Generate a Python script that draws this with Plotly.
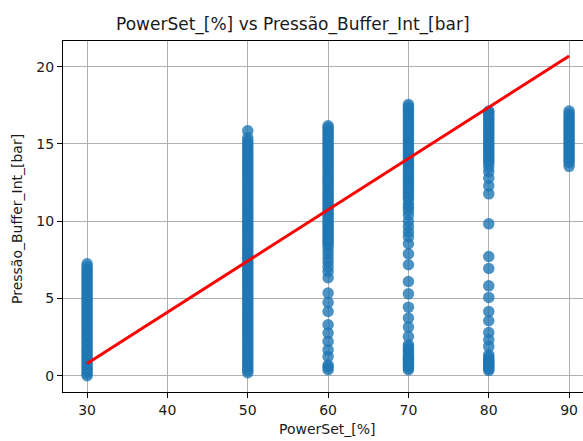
import plotly.graph_objects as go

# Power set-point levels (x) and the internal buffer pressure readings at each level (y, bar)
power_levels = [30, 50, 60, 70, 80, 90]

p30 = [0.00, 0.15, 0.30, 0.45, 0.60, 0.75, 0.90, 1.05, 1.20, 1.35, 1.50, 1.65, 1.80,
       1.95, 2.10, 2.25, 2.40, 2.55, 2.70, 2.85, 3.00, 3.15, 3.30, 3.45, 3.60, 3.75,
       3.90, 4.05, 4.20, 4.35, 4.50, 4.65, 4.80, 4.95, 5.10, 5.25, 5.40, 5.55, 5.70,
       5.85, 6.00, 6.15, 6.30, 6.45, 6.60, 6.75, 6.90, 7.05, 7.25]

p50 = [0.20, 0.35, 0.50, 0.65, 0.80, 0.95, 1.10, 1.25, 1.40, 1.55, 1.70, 1.85, 2.00,
       2.15, 2.30, 2.45, 2.60, 2.75, 2.90, 3.05, 3.20, 3.35, 3.50, 3.65, 3.80, 3.95,
       4.10, 4.25, 4.40, 4.55, 4.70, 4.85, 5.00, 5.15, 5.30, 5.45, 5.60, 5.75, 5.90,
       6.05, 6.20, 6.35, 6.50, 6.65, 6.80, 6.95, 7.10, 7.25, 7.40, 7.55, 7.70, 7.85,
       8.00, 8.15, 8.30, 8.45, 8.60, 8.75, 8.90, 9.05, 9.20, 9.35, 9.50, 9.65, 9.80,
       9.95, 10.10, 10.25, 10.40, 10.55, 10.70, 10.85, 11.00, 11.15, 11.30, 11.45,
       11.60, 11.75, 11.90, 12.05, 12.20, 12.35, 12.50, 12.65, 12.80, 12.95, 13.10,
       13.25, 13.40, 13.55, 13.70, 13.85, 14.00, 14.15, 14.30, 14.45, 14.60, 14.75,
       14.90, 15.05, 15.20, 15.40, 15.85]

p60 = [0.39, 0.55, 0.70, 1.25, 1.68, 2.22, 2.76, 3.30, 4.16, 4.74, 5.35, 6.34,
       6.75, 7.05, 7.35, 7.60, 7.90, 8.15,
       8.40, 8.55, 8.70, 8.85, 9.00, 9.15, 9.30, 9.45, 9.60, 9.75, 9.90, 10.05, 10.20,
       10.35, 10.50, 10.65, 10.80, 10.95, 11.10, 11.25, 11.40, 11.55, 11.70, 11.85,
       12.00, 12.15, 12.30, 12.45, 12.60, 12.75, 12.90, 13.05, 13.20, 13.35, 13.50,
       13.65, 13.80, 13.95, 14.10, 14.25, 14.40, 14.55, 14.70, 14.85, 15.00, 15.15,
       15.30, 15.45, 15.60, 15.75, 15.90, 16.05, 16.17]

p70 = [0.39, 0.50, 0.62, 0.74, 0.84, 0.95, 1.03, 1.15, 1.25, 1.40, 1.55, 1.70, 1.85,
       2.00, 2.54, 3.15, 3.73, 4.44, 5.30, 6.10, 7.18, 7.89, 8.54, 9.00, 9.30, 9.65,
       10.00, 10.40, 10.70, 10.90, 11.10, 11.38, 11.55, 11.70, 11.85,
       12.00, 12.15, 12.30, 12.45, 12.60, 12.75, 12.90, 13.05, 13.20, 13.35, 13.50,
       13.65, 13.80, 13.95, 14.10, 14.25, 14.40, 14.55, 14.70, 14.85, 15.00, 15.15,
       15.30, 15.45, 15.60, 15.75, 15.90, 16.05, 16.20, 16.35, 16.50, 16.65, 16.80,
       16.95, 17.10, 17.25, 17.40, 17.55]

p80 = [0.34, 0.45, 0.55, 0.65, 0.75, 0.85, 0.95, 1.05, 1.20, 1.36, 1.90, 2.33, 2.80,
       3.56, 4.16, 5.07, 5.82, 6.94, 7.72, 9.83, 11.77, 12.29, 12.78, 13.20, 13.50,
       13.75, 13.90, 14.05, 14.20, 14.35, 14.50, 14.65, 14.80, 14.95, 15.10, 15.25,
       15.40, 15.55, 15.70, 15.85, 16.00, 16.15, 16.30, 16.45, 16.60, 16.75, 16.90,
       17.05, 17.13]

p90 = [13.55, 13.80, 13.95, 14.10, 14.25, 14.40, 14.55, 14.70, 14.85, 15.00, 15.15,
       15.30, 15.45, 15.60, 15.75, 15.90, 16.05, 16.20, 16.35, 16.50, 16.65, 16.80,
       16.95, 17.13]

# Linear regression fit, evaluated at the ends of the data range
fit_x = [30, 90]
fit_y = [0.80, 20.69]

x_ticks = [30, 40, 50, 60, 70, 80, 90]
y_ticks = [0, 5, 10, 15, 20]

pressures = [p30, p50, p60, p70, p80, p90]
xs, ys = [], []
for level, vals in zip(power_levels, pressures):
    xs.extend([level] * len(vals))
    ys.extend(vals)

FONT = "DejaVu Sans"
TEXT = "#1a1a1a"

fig = go.Figure()
fig.add_trace(go.Scatter(
    x=xs, y=ys, mode="markers",
    marker=dict(color="#1f77b4", size=11.5, opacity=0.8, line=dict(width=0)),
    showlegend=False, hoverinfo="skip",
))
fig.add_trace(go.Scatter(
    x=fit_x, y=fit_y, mode="lines",
    line=dict(color="red", width=3),
    showlegend=False, hoverinfo="skip",
))

axis_common = dict(
    showgrid=True, gridcolor="#b0b0b0", gridwidth=1,
    showline=True, linecolor="black", linewidth=1,
    ticks="outside", ticklen=5, tickcolor="black", tickwidth=1,
    zeroline=False, tickfont=dict(family=FONT, size=14, color=TEXT),
)

fig.update_layout(
    width=583, height=441,
    margin=dict(l=63, r=0, t=41, b=49),
    paper_bgcolor="white", plot_bgcolor="white",
    font=dict(family=FONT, size=14, color=TEXT),
    xaxis=dict(range=[27.0, 91.73], tickvals=x_ticks,
               ticktext=[str(v) for v in x_ticks], mirror=True, **axis_common),
    yaxis=dict(range=[-1.05, 21.66], tickvals=y_ticks,
               ticktext=[str(v) for v in y_ticks], mirror=False, **axis_common),
    annotations=[
        dict(text="PowerSet_[%] vs Pressão_Buffer_Int_[bar]", xref="paper", yref="paper",
             x=0.443, y=1.0484, xanchor="center", yanchor="middle", showarrow=False,
             font=dict(family=FONT, size=17, color=TEXT)),
        dict(text="PowerSet_[%]", xref="paper", yref="paper",
             x=0.5088, y=-0.1054, xanchor="center", yanchor="middle", showarrow=False,
             font=dict(family=FONT, size=14, color=TEXT)),
        dict(text="Pressão_Buffer_Int_[bar]", xref="paper", yref="paper",
             x=-0.0885, y=0.4929, xanchor="center", yanchor="middle", showarrow=False,
             textangle=-90, font=dict(family=FONT, size=14, color=TEXT)),
    ],
)

fig.write_html("out.html")
